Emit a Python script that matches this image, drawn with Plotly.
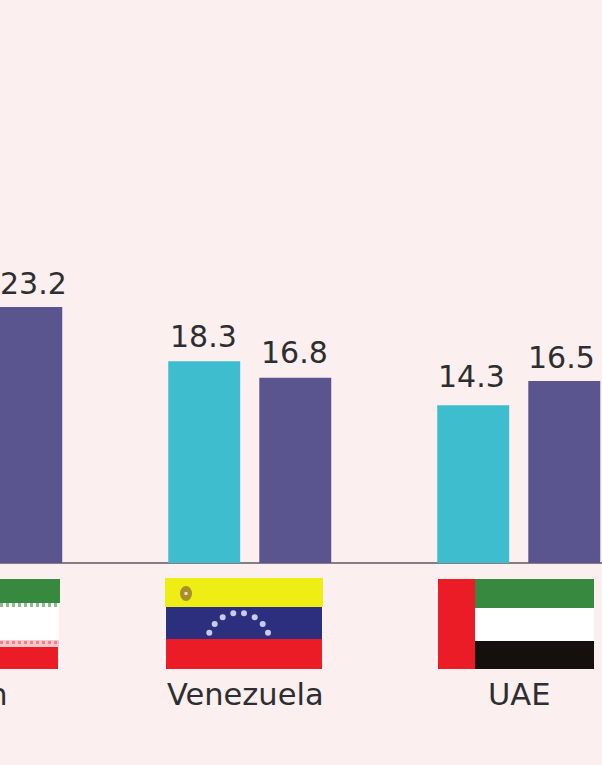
import plotly.graph_objects as go

# Chart data
categories = ["Iran", "Venezuela", "UAE"]
first_values = [None, 18.3, 14.3]
second_values = [23.2, 16.8, 16.5]

# Styling
WIDTH, HEIGHT = 602, 765
BG = "#FBEFEF"
TEAL = "#3EBDCE"
PURPLE = "#5A558F"
INK = "#2E2E30"
FONT = "DejaVu Sans"
VALUE_SIZE = 30
NAME_SIZE = 30.5

# Axis ranges that place the baseline and category spacing on the page
X_RANGE = [0.0716, 2.3095]
Y_RANGE = [-18.31, 51.04]


def page_x(px):
    return px / WIDTH


def page_y(py):
    return 1 - py / HEIGHT


def cat_px(index, offset=0.0):
    """Horizontal pixel position of a category, plus a bar offset."""
    span = X_RANGE[1] - X_RANGE[0]
    return (index - X_RANGE[0]) / span * WIDTH + offset


fig = go.Figure()
fig.add_bar(x=categories, y=first_values, marker=dict(color=TEAL, line_width=0), name="First")
fig.add_bar(x=categories, y=second_values, marker=dict(color=PURPLE, line_width=0), name="Second")

# Value labels sit above each bar, nudged a little as in a hand-set layout
BAR_OFFSET = 45.5
label_nudges = {
    (0, 1): (7, 10),
    (1, 0): (-1, 11),
    (1, 1): (-1, 12),
    (2, 0): (-2, 15),
    (2, 1): (-3, 10),
}
annotations = []
for series, values in enumerate([first_values, second_values]):
    for i, value in enumerate(values):
        if value is None:
            continue
        dx, dy = label_nudges[(i, series)]
        offset = -BAR_OFFSET if series == 0 else BAR_OFFSET
        annotations.append(dict(
            x=page_x(cat_px(i, offset) + dx), xref="paper", xanchor="center",
            y=value, yref="y", yanchor="bottom", yshift=dy - 6,
            text=f"{value:.1f}", showarrow=False,
            font=dict(family=FONT, size=VALUE_SIZE, color=INK),
        ))

# Country names under the flags
name_nudges = [-3, -4, 0]
for i, name in enumerate(categories):
    annotations.append(dict(
        x=page_x(cat_px(i, name_nudges[i])), xref="paper", xanchor="center",
        y=page_y(694), yref="paper", yanchor="middle",
        text=name, showarrow=False,
        font=dict(family=FONT, size=NAME_SIZE, color=INK),
    ))


def rect(x0, y0, x1, y1, color):
    return dict(type="rect", xref="paper", yref="paper", layer="above",
                x0=page_x(x0), x1=page_x(x1), y0=page_y(y0), y1=page_y(y1),
                fillcolor=color, line_width=0)


GREEN = "#36893F"
RED = "#EC1C26"
WHITE = "#FFFFFF"
shapes = []

# Iran flag, with its dotted fringes along the central band
shapes += [rect(-2, 579, 60, 603, GREEN), rect(-2, 603, 59, 640, WHITE), rect(-2, 647, 58, 669, RED),
           rect(-2, 640, 59, 647, "#F7C9CC")]
for fringe_x in range(0, 58, 6):
    shapes.append(rect(fringe_x, 603, fringe_x + 3, 607, "#8CBC90"))
    shapes.append(rect(fringe_x, 641, fringe_x + 3, 644, "#F08088"))

# Venezuela flag
shapes += [rect(165, 578, 323, 607, "#EEEE14"), rect(166, 607, 322, 639, "#2C2F7E"), rect(166, 639, 322, 669, RED)]
shapes.append(dict(type="circle", xref="paper", yref="paper", layer="above",
                   x0=page_x(180), x1=page_x(192), y0=page_y(586), y1=page_y(601),
                   fillcolor="#A98F2A", line_width=0))
shapes.append(rect(184.5, 592, 187.5, 595, "#E8E2C0"))
star_centres = [(209.3, 632.7), (214.7, 624), (222.7, 617.3), (233.3, 613.3),
                (244, 613.3), (254.7, 617.3), (262.7, 624), (268, 632.7)]
for cx, cy in star_centres:
    shapes.append(dict(type="circle", xref="paper", yref="paper", layer="above",
                       x0=page_x(cx - 3), x1=page_x(cx + 3), y0=page_y(cy - 3), y1=page_y(cy + 3),
                       fillcolor="#C9CBEE", line_width=0))

# UAE flag
shapes += [rect(438, 579, 475, 669, RED), rect(475, 579, 594, 608, GREEN),
           rect(475, 608, 594, 641, WHITE), rect(475, 641, 594, 669, "#15100E")]

fig.update_layout(
    width=WIDTH, height=HEIGHT, autosize=False,
    margin=dict(l=0, r=0, t=0, b=0),
    paper_bgcolor=BG, plot_bgcolor=BG,
    barmode="group", bargap=0.323, bargroupgap=0.21,
    showlegend=False,
    annotations=annotations, shapes=shapes,
    xaxis=dict(type="category", categoryorder="array", categoryarray=categories,
               range=X_RANGE, showgrid=False, showticklabels=False, ticks="",
               zeroline=False, showline=False),
    yaxis=dict(range=Y_RANGE, showgrid=False, showticklabels=False, ticks="",
               zeroline=True, zerolinecolor="#857F82", zerolinewidth=2, showline=False),
)

fig.write_html("out.html", config=dict(displayModeBar=False))
